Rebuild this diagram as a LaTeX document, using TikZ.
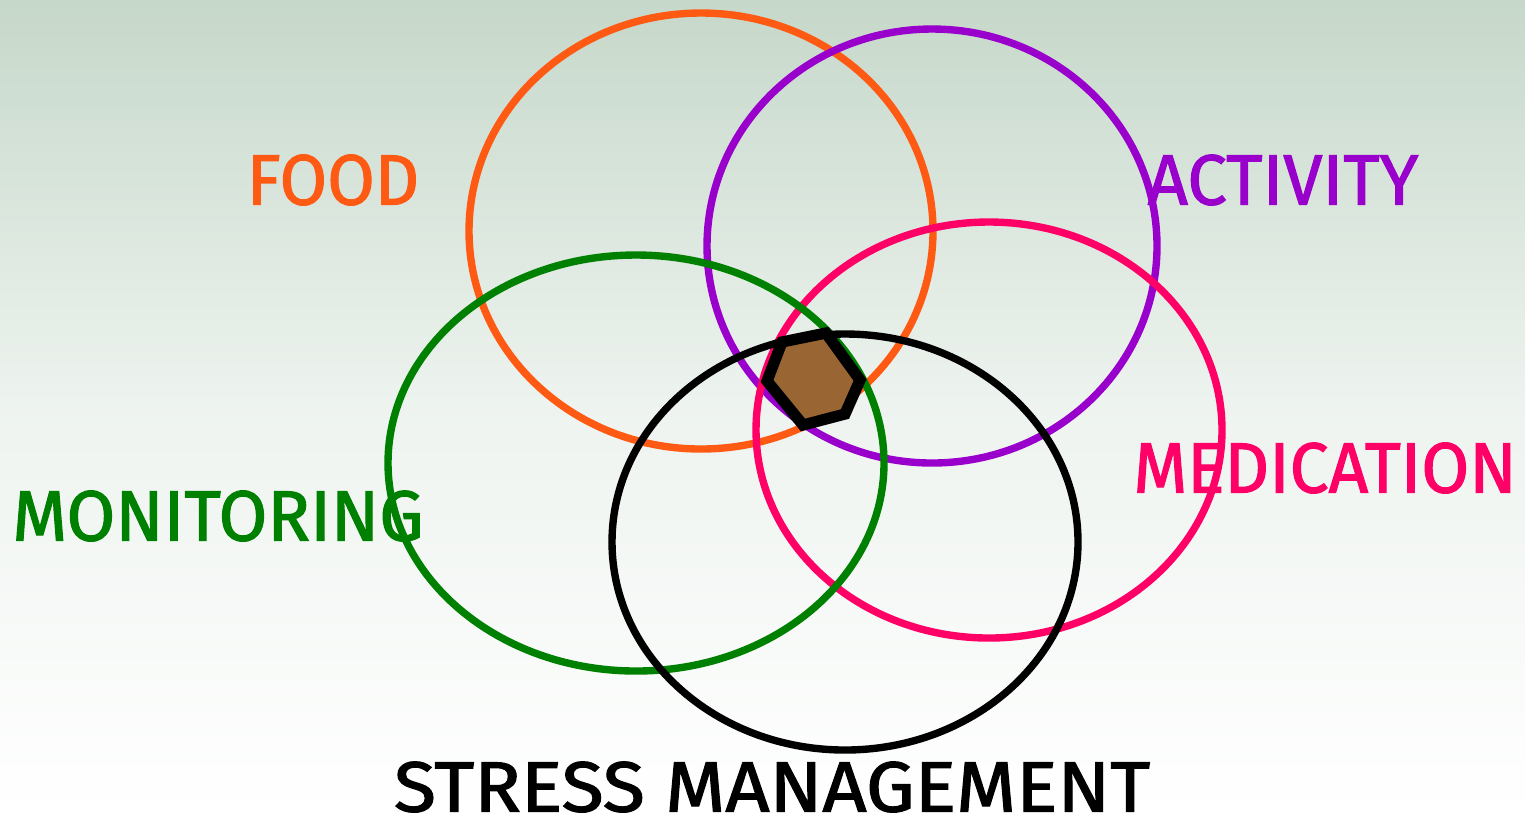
\documentclass[tikz,border=0pt]{standalone}
\usepackage{fontspec}
\usepackage{graphicx}
\newfontfamily\lblfont[FakeBold=1.6]{Fira Sans}
\definecolor{bgtop}{HTML}{C6D8CA}
\definecolor{cfood}{HTML}{FF5A14}
\definecolor{cact}{HTML}{9900CC}
\definecolor{cmed}{HTML}{FF0066}
\definecolor{cmon}{HTML}{008000}
\definecolor{chex}{HTML}{996633}
\tikzset{
  ring/.style={line width=2.1pt},
  lbl/.style={inner sep=0pt, font=\lblfont},
}
\newcommand{\fitlbl}[3]{\resizebox{#1}{#2}{#3}}
\begin{document}
\begin{tikzpicture}[x=0.01cm,y=-0.01cm]
\shade[top color=bgtop, bottom color=white, middle color=bgtop!30] (0,0) rectangle (1525,817);
\useasboundingbox (0,0) rectangle (1525,817);
\draw[ring, cfood] (701,231) ellipse [x radius=232, y radius=218];
\draw[ring, cact] (932,246) ellipse [x radius=225, y radius=217];
\draw[ring, cmed] (989,430) ellipse [x radius=233, y radius=208];
\draw[ring, cmon] (636,463) ellipse [x radius=248, y radius=208];
\draw[ring, black] (845,542) ellipse [x radius=233, y radius=208];
\draw[line width=3.2pt, fill=chex, line join=miter]
  (782,342) -- (826,333) -- (860,380) -- (845,414) -- (803,425) -- (767,381) -- cycle;
\node[lbl, text=cfood] (food) at (333,180) {\fitlbl{49pt}{14.2pt}{FOOD}};
\node[lbl, text=cact] (act) at (1283,180) {\fitlbl{77pt}{14.2pt}{ACTIVITY}};
\node[lbl, text=cmed] (med) at (1325,468) {\fitlbl{109pt}{14.2pt}{MEDICATION}};
\node[lbl, text=cmon] (mon) at (218,516) {\fitlbl{117pt}{14.2pt}{MONITORING}};
\node[lbl, text=black] (stress) at (772,787) {\fitlbl{215pt}{14.2pt}{STRESS MANAGEMENT}};
\end{tikzpicture}
\end{document}
